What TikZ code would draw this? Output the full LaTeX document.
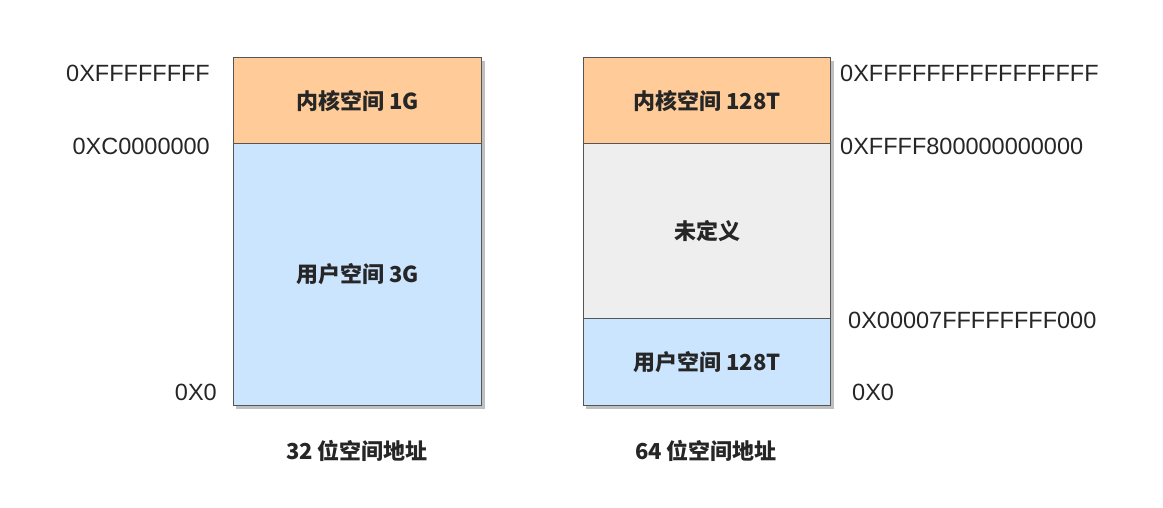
\documentclass[tikz,border=0pt]{standalone}
\usepackage{fontspec}
\setmainfont{Noto Sans CJK SC}
\newfontfamily\addrfont{Liberation Sans}
\usetikzlibrary{positioning}
\definecolor{kern}{HTML}{FFCC99}
\definecolor{usr}{HTML}{CCE5FF}
\definecolor{undef}{HTML}{EEEEEE}
\definecolor{edge}{HTML}{555555}
\begin{document}
\begin{tikzpicture}[x=1pt,y=-1pt,
  seg/.style={draw=edge,line width=1.1pt},
  shad/.style={fill=black!25},
  boxtext/.style={font=\fontsize{22}{26}\selectfont\bfseries,text=black!85},
  addr/.style={font=\addrfont\fontsize{23.5}{27}\selectfont,text=black!85,inner sep=0pt},
  caption/.style={font=\fontsize{22}{26}\selectfont\bfseries,text=black!85}]
\useasboundingbox (0,0) rectangle (1163,508);
% shadows
\fill[shad] (236,61) rectangle (485,409);
\fill[shad] (586,61) rectangle (834,409);
% left column
\node[seg,fill=kern,minimum width=248pt,minimum height=86pt,anchor=north west,inner sep=0pt] (k32) at (233,57) {};
\node[seg,fill=usr,minimum width=248pt,minimum height=262pt,anchor=north west,inner sep=0pt] (u32) at (233,143) {};
\node[boxtext] (k32t) at (k32.center) {内核空间 1G};
\node[boxtext] (u32t) at (u32.center) {用户空间 3G};
% right column
\node[seg,fill=kern,minimum width=247pt,minimum height=86pt,anchor=north west,inner sep=0pt] (k64) at (583,57) {};
\node[seg,fill=undef,minimum width=247pt,minimum height=175pt,anchor=north west,inner sep=0pt] (n64) at (583,143) {};
\node[seg,fill=usr,minimum width=247pt,minimum height=87pt,anchor=north west,inner sep=0pt] (u64) at (583,318) {};
\node[boxtext] (k64t) at (k64.center) {内核空间 128T};
\node[boxtext] (n64t) at (n64.center) {未定义};
\node[boxtext] (u64t) at (u64.center) {用户空间 128T};
% left addresses
\node[addr,anchor=east] (a1) at (210,73) {0XFFFFFFFF};
\node[addr,anchor=east] (a2) at (210,146) {0XC0000000};
\node[addr,anchor=east] (a3) at (217,392) {0X0};
% right addresses
\node[addr,anchor=west] (b1) at (840,73) {0XFFFFFFFFFFFFFFFF};
\node[addr,anchor=west] (b2) at (840,146) {0XFFFF800000000000};
\node[addr,anchor=west] (b3) at (848,320) {0X00007FFFFFFFF000};
\node[addr,anchor=west] (b4) at (852,392) {0X0};
% captions
\node[caption] (c32) at (357,451) {32 位空间地址};
\node[caption] (c64) at (706,451) {64 位空间地址};
\end{tikzpicture}
\end{document}
